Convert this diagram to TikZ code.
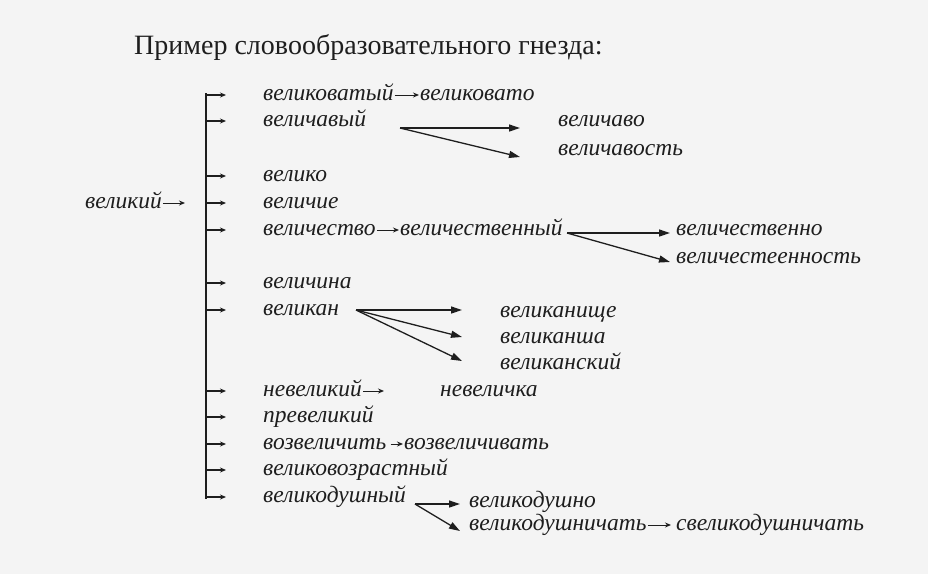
\documentclass[tikz,border=0pt]{standalone}
\usepackage{fontspec}
\setmainfont{Liberation Serif}
\usepackage{tikz}
\usetikzlibrary{arrows.meta}
\usetikzlibrary{positioning}
\definecolor{pagegray}{HTML}{F4F4F4}
\definecolor{ink}{HTML}{1E1E1E}
\tikzset{word node/.style={anchor=west,inner sep=1pt,text height=12pt,text depth=2pt,
		font=\fontsize{23.5}{26}\selectfont\itshape,text=ink},
	title node/.style={anchor=west,inner sep=0pt,font=\fontsize{28}{32}\selectfont,text=ink},
	branch/.style={-{Stealth[length=6pt,width=5pt]},line width=1.2pt,draw=ink},
	inline/.style={-{Stealth[length=6pt,width=5pt]},line width=1pt,draw=ink},
	fork/.style={-{Triangle[length=11pt,width=7pt]},line width=1.3pt,draw=ink},
}

\begin{document}
\begin{tikzpicture}[x=1pt,y=-1pt]
	\fill[pagegray] (0,0) rectangle (928,574);
	\useasboundingbox (0,0) rectangle (928,574);
	\node[title node] (t) at (134,47) {Пример словообразовательного гнезда:};
	
	\node[word node] (0) at (84,203) {великий};
	\coordinate (top) at (206,93);
	\coordinate (bottom) at (206,499);
	\coordinate (in) at (185,203);
	
	\node[word node] (1) at (262,95) {великоватый};
	\node[word node] (2) at (262,121) {величавый};
	\node[word node] (3) at (262,176) {велико};
	\node[word node] (4) at (262,203) {величие};
	\node[word node] (5) at (262,230) {величество};
	\node[word node] (6) at (262,283) {величина};
	\node[word node] (7) at (262,310) {великан};
	\node[word node] (8) at (262,391) {невеликий};
	\node[word node] (9) at (262,417) {превеликий};
	\node[word node] (10) at (262,444) {возвеличить};
	\node[word node] (11) at (262,470) {великовозрастный};
	\node[word node] (12) at (262,497) {великодушный};
	
	\node[word node] (1a) at (419,95) {великовато};
	\node[word node] (2a) at (557,121) {величаво};
	\node[word node] (2b) at (557,150) {величавость};
	\node[word node] (5a) at (399,230) {величественный};
	\node[word node] (5b) at (675,230) {величественно};
	\node[word node] (5c) at (675,258) {величестеенность};
	\node[word node] (7a) at (499,312) {великанище};
	\node[word node] (7b) at (499,338) {великанша};
	\node[word node] (7c) at (499,364) {великанский};
	\node[word node] (8a) at (439,391) {невеличка};
	\node[word node] (10a) at (403,444) {возвеличивать};
	\node[word node] (12a) at (468,502) {великодушно};
	\node[word node] (12b) at (468,525) {великодушничать};
	\node[word node] (12c) at (675,525) {свеликодушничать};
	
	\coordinate (f2) at (400,128);
	\coordinate (f5) at (567,233);
	\coordinate (f7) at (356,310);
	\coordinate (f12) at (415,504);
	
	\draw[line width=1.4pt,ink] (top) -- (bottom);
	\foreach \n in {1,...,12}
	\draw[branch] (top |- \n.west) -- ++(20,0);
	
	\path
	(0) edge[inline] (in)
	(1) edge[inline] (1a)
	(5) edge[inline] (5a)
	(8) edge[inline] ([xshift=-55pt]8a.west)
	(10) edge[inline,shorten <=3pt] (10a)
	(12b) edge[inline,shorten >=4pt] (12c)
	;
	%%
	\path
	(f2) edge[fork] ([xshift=-37pt,yshift=-7pt]2a.west)
	(f2) edge[fork] ([xshift=-37pt,yshift=-7pt]2b.west)
	(f5) edge[fork] ([xshift=-5pt,yshift=-3pt]5b.west)
	(f5) edge[fork] ([xshift=-5pt,yshift=-4pt]5c.west)
	(f7) edge[fork] ([xshift=-37pt,yshift=2pt]7a.west)
	(f7) edge[fork] ([xshift=-37pt,yshift=1pt]7b.west)
	(f7) edge[fork] ([xshift=-37pt,yshift=3pt]7c.west)
	(f12) edge[fork] ([xshift=-8pt,yshift=-2pt]12a.west)
	(f12) edge[fork] ([xshift=-8pt,yshift=-6pt]12b.west)
	;
\end{tikzpicture}
\end{document}
